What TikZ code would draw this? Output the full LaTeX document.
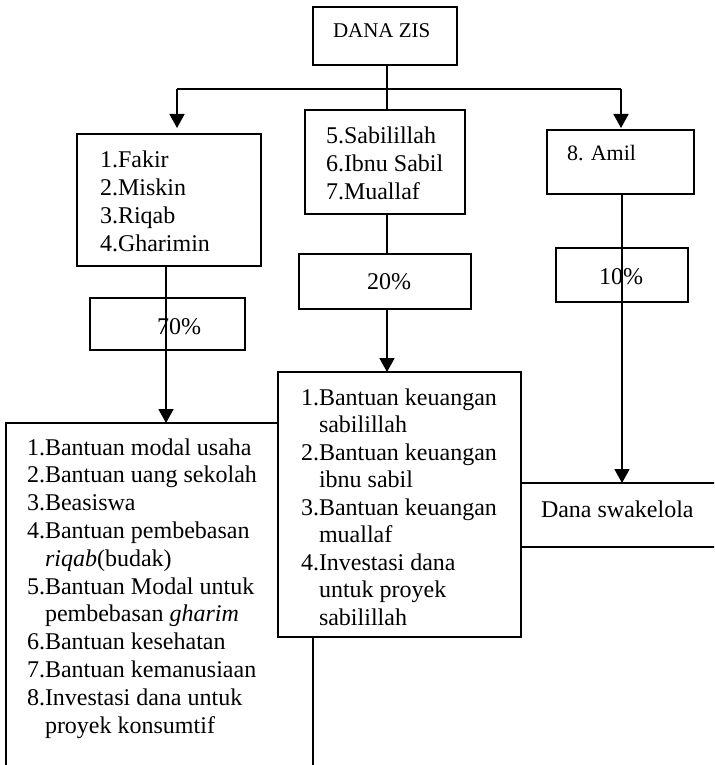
\documentclass[tikz,border=0pt]{standalone}
\usepackage{fontspec}
\setmainfont{Liberation Serif}
\usetikzlibrary{arrows.meta,fit}
\begin{document}
\begin{tikzpicture}[x=0.5pt,y=-0.5pt,
  box/.style={draw, line width=0.9pt, fill=white, inner sep=0pt, outer sep=0pt},
  txt/.style={inner sep=0pt, outer sep=0pt, align=left, anchor=base west, font=\fontsize{12}{13.85}\selectfont},
  con/.style={line width=0.9pt},
  arr/.style={con, -{Triangle[width=7.5pt,length=7pt]}}]
\useasboundingbox (0,0) rectangle (714,765);
\clip (0,0) rectangle (714,765);
% boxes
\node[box, fit={(313,7) (457,65)}] (dana) {};
\node[box, fit={(77,134) (261,266)}] (fakir) {};
\node[box, fit={(305,110) (465,214)}] (sab) {};
\node[box, fit={(547,130) (694,194)}] (amil) {};
\node[box, fit={(90,298) (245,350)}] (p70) {};
\node[box, fit={(299,254) (471,309)}] (p20) {};
\node[box, fit={(556,248) (688,302)}] (p10) {};
\node[box, fit={(6,423) (313,800)}] (bl) {};
\node[box, fit={(278,372) (521,637)}] (mid) {};
\node[box, fit={(521,483) (740,547)}] (swa) {};
% texts (multi-line nodes are anchored at the baseline of their last line)
\node[txt, font=\fontsize{10.5}{12}\selectfont] (tdana) at (333,38) {DANA ZIS};
\node[txt, font=\fontsize{11}{12.5}\selectfont] (tamil) at (567,161) {8. Amil};
\node[txt] (tfakir) at (100,251) {1.Fakir\\2.Miskin\\3.Riqab\\4.Gharimin};
\node[txt] (tsab) at (326,199) {5.Sabilillah\\6.Ibnu Sabil\\7.Muallaf};
\node[txt] (t20) at (367,289) {20\%};
\node[txt] (t70) at (157,334) {70\%};
\node[txt] (t10) at (599,284) {10\%};
\node[txt, font=\fontsize{12}{13.75}\selectfont] (tmid) at (301,625) {1.Bantuan keuangan\\\hphantom{1.}sabilillah\\2.Bantuan keuangan\\\hphantom{1.}ibnu sabil\\3.Bantuan keuangan\\\hphantom{1.}muallaf\\4.Investasi dana\\\hphantom{1.}untuk proyek\\\hphantom{1.}sabilillah};
\node[txt, font=\fontsize{12}{13.9}\selectfont] (tbl) at (27,733) {1.Bantuan modal usaha\\2.Bantuan uang sekolah\\3.Beasiswa\\4.Bantuan pembebasan\\\hphantom{1.}\textit{riqab}(budak)\\5.Bantuan Modal untuk\\\hphantom{1.}pembebasan \textit{gharim}\\6.Bantuan kesehatan\\7.Bantuan kemanusiaan\\8.Investasi dana untuk\\\hphantom{1.}proyek konsumtif};
\node[txt] (tswa) at (541,517) {Dana swakelola};
% connectors
\coordinate (jm) at (387,89);
\coordinate (jl) at (177,89);
\coordinate (jr) at (621,89);
\coordinate (xl) at (166,0);
\coordinate (xr) at (622,0);
\draw[con] (dana.south -| jm) -- (jm);
\draw[con] (jl) -- (jr);
\draw[arr] (jl) -- ([yshift=3pt]jl |- fakir.north);
\draw[arr] (jr) -- ([yshift=1pt]jr |- amil.north);
\draw[con] (jm) -- (jm |- sab.north);
\draw[con] (sab.south -| jm) -- (jm |- p20.north);
\draw[arr] (p20.south -| jm) -- (jm |- mid.north);
\draw[arr] (fakir.south -| xl) -- (xl |- bl.north);
\draw[arr] (amil.south -| xr) -- (xr |- swa.north);
\end{tikzpicture}
\end{document}
